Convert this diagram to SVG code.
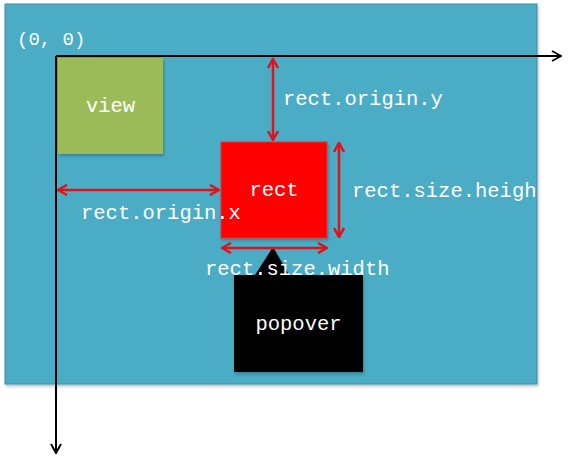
<svg xmlns="http://www.w3.org/2000/svg" width="568" height="458" viewBox="0 0 568 458">
<defs>
<style>
.lbl{font-family:"Liberation Mono","Courier New",monospace;font-size:20.5px;fill:#ffffff}
.ax{stroke:#000;stroke-width:2;fill:none}
.dim{stroke:#E0121C;stroke-width:2.5;fill:none}
</style>
<marker id="ahK" viewBox="0 0 12 12" refX="11" refY="6" markerWidth="12" markerHeight="12" markerUnits="userSpaceOnUse" orient="auto-start-reverse">
<path d="M2,1 L11,6 L2,11" fill="none" stroke="#000" stroke-width="2"/>
</marker>
<marker id="ahR" viewBox="0 0 12 12" refX="11" refY="6" markerWidth="12" markerHeight="12" markerUnits="userSpaceOnUse" orient="auto-start-reverse">
<path d="M2,1 L11,6 L2,11" fill="none" stroke="#E0121C" stroke-width="2.5"/>
</marker>
<filter id="sh" x="-10%" y="-10%" width="120%" height="120%">
<feDropShadow dx="1" dy="2" stdDeviation="1.5" flood-color="#000" flood-opacity="0.25"/>
</filter>
</defs>
<rect width="568" height="458" fill="#ffffff"/>
<g id="panel">
<rect x="5" y="4" width="532" height="380" fill="#4BACC6" stroke="#3E8DA6" stroke-width="1" filter="url(#sh)"/>
</g>
<g id="view">
<rect x="58" y="58" width="105" height="96" fill="#9BBB59" filter="url(#sh)"/>
<text class="lbl" x="110.5" y="112" text-anchor="middle">view</text>
</g>
<g id="rect">
<rect x="221" y="142" width="106" height="96" fill="#FF0000" stroke="#D9363E" stroke-width="1" filter="url(#sh)"/>
<text class="lbl" x="274" y="196" text-anchor="middle">rect</text>
</g>
<g id="popover">
<path d="M234,275 L255,275 L273,247 L289,275 L363,275 L363,372 L234,372 Z" fill="#000000" filter="url(#sh)"/>
<text class="lbl" x="298.5" y="330" text-anchor="middle">popover</text>
</g>
<g id="connectors">
<line class="ax" x1="56" y1="56" x2="561" y2="56" marker-end="url(#ahK)"/>
<line class="ax" x1="56" y1="56" x2="56" y2="453" marker-end="url(#ahK)"/>
<line class="dim" x1="273" y1="59" x2="273" y2="140" marker-start="url(#ahR)" marker-end="url(#ahR)"/>
<line class="dim" x1="58" y1="190" x2="219" y2="190" marker-start="url(#ahR)" marker-end="url(#ahR)"/>
<line class="dim" x1="339" y1="143" x2="339" y2="237" marker-start="url(#ahR)" marker-end="url(#ahR)"/>
<line class="dim" x1="222" y1="248" x2="327" y2="248" marker-start="url(#ahR)" marker-end="url(#ahR)"/>
</g>
<g id="labels">
<text class="lbl" x="17" y="45" style="font-size:19px">(0, 0)</text>
<text class="lbl" x="283" y="105">rect.origin.y</text>
<text class="lbl" x="81" y="219">rect.origin.x</text>
<text class="lbl" x="352" y="197">rect.size.heigh</text>
<text class="lbl" x="205" y="275">rect.size.width</text>
</g>
</svg>
